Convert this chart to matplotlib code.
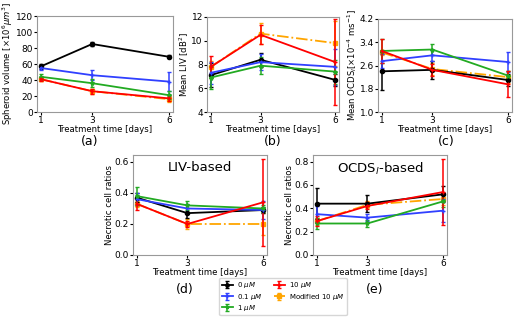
import numpy as np
import matplotlib
matplotlib.use("Agg")
from matplotlib import pyplot as plt

days = [1, 3, 6]
groups = ['0 $\\mu M$', '0.1 $\\mu M$', '1 $\\mu M$', '10 $\\mu M$', 'Modified 10 $\\mu M$']
colors = ['black', '#3040ff', '#22aa22', 'red', 'orange']
markers = ['o', '+', '*', '+', 's']
styles = ['-', '-', '-', '-', '-.']

# (a) spheroid volume
vol = [[57, 85, 69], [55, 46, 38], [44, 36, 21], [41, 26, 17], [41, 26, 16]]
vol_err = [[3, 2, 2], [2, 6, 12], [4, 5, 5], [2, 3, 3], [2, 3, 3]]
# (b) mean LIV
liv = [[7.1, 8.4, 6.7], [7.3, 8.2, 7.8], [6.9, 7.9, 7.4], [7.8, 10.5, 8.2], [7.8, 10.6, 9.8]]
liv_err = [[1.0, 0.6, 0.5], [0.9, 0.7, 1.5], [1.0, 0.7, 1.0], [0.9, 0.8, 3.6], [0.5, 0.9, 1.9]]
# (c) mean OCDS
ocds = [[2.4, 2.45, 2.1], [2.75, 2.95, 2.72], [3.1, 3.15, 2.25], [3.1, 2.45, 1.95], [3.05, 2.48, 2.2]]
ocds_err = [[0.65, 0.3, 0.2], [0.25, 0.2, 0.35], [0.4, 0.2, 0.15], [0.4, 0.2, 0.45], [0.1, 0.2, 0.2]]
# (d) LIV-based necrotic ratio
nliv = [[0.37, 0.27, 0.29], [0.36, 0.30, 0.29], [0.38, 0.32, 0.30], [0.33, 0.20, 0.34], [0.33, 0.20, 0.20]]
nliv_err = [[0.03, 0.03, 0.02], [0.04, 0.03, 0.06], [0.06, 0.03, 0.02], [0.04, 0.02, 0.28], [0.02, 0.03, 0.07]]
# (e) OCDS-based necrotic ratio
nocds = [[0.44, 0.44, 0.52], [0.35, 0.32, 0.38], [0.27, 0.27, 0.46], [0.29, 0.42, 0.54], [0.29, 0.43, 0.48]]
nocds_err = [[0.13, 0.07, 0.07], [0.07, 0.03, 0.10], [0.05, 0.03, 0.05], [0.04, 0.03, 0.28], [0.03, 0.03, 0.05]]

plt.rcParams['font.family'] = 'DejaVu Sans'
plt.rcParams['font.size'] = 6.1

fig = plt.figure(figsize=(5.25, 3.17), dpi=100)
W, H = 525.0, 317.0

def make_ax(l, t, r, b):
    return fig.add_axes([l / W, 1 - b / H, (r - l) / W, (b - t) / H])

axes = [make_ax(37, 16, 173, 112), make_ax(207, 17, 339, 112), make_ax(378, 19, 512, 112),
        make_ax(133, 155, 267, 255), make_ax(313, 155, 447, 255)]
data = [(vol, vol_err), (liv, liv_err), (ocds, ocds_err), (nliv, nliv_err), (nocds, nocds_err)]
ylabels = ['Spheroid volume [$\\times10^6\\mu m^3$]', 'Mean LIV [dB$^2$]',
           'Mean OCDS$_l$[$\\times10^{-4}$ ms$^{-1}$]', 'Necrotic cell ratios', 'Necrotic cell ratios']
ylims = [(0, 120), (4, 12), (1.0, 4.2), (0, 0.645), (0, 0.857)]
yticks = [np.arange(0, 121, 20), [4, 6, 8, 10, 12], [1.0, 1.8, 2.6, 3.4, 4.2],
          [0.0, 0.2, 0.4, 0.6], [0.0, 0.2, 0.4, 0.6, 0.8]]
letters = ['(a)', '(b)', '(c)', '(d)', '(e)']
letter_pos = [(90, 141), (273, 141), (446, 141), (185, 289), (375, 289)]

handles = []
for k, ax in enumerate(axes):
    vals, errs = data[k]
    order = [4, 0, 1, 2, 3]
    for i in order:
        h = ax.errorbar(days, vals[i], yerr=errs[i], color=colors[i], marker=markers[i],
                        markersize=3, linestyle=styles[i], linewidth=1.3, elinewidth=1.1,
                        capsize=1.5, label=groups[i], zorder=2 + (i < 4))
        if k == 0:
            handles.append((i, h))
    ax.set_ylim(*ylims[k])
    ax.set_yticks(yticks[k])
    if k == 2:
        ax.set_yticklabels(['1.0', '1.8', '2.6', '3.4', '4.2'])
    ax.set_xticks(days)
    ax.set_xlim(0.85, 6.15)
    ax.set_xlabel('Treatment time [days]', labelpad=0)
    ax.set_ylabel(ylabels[k], labelpad=0.5)
    ax.tick_params(length=2, pad=1, labelsize=6.5)
    for s in ax.spines.values():
        s.set_color('#999999')
    lx, ly = letter_pos[k]
    fig.text(lx / W, 1 - ly / H, letters[k], ha='center', va='center', fontsize=9)

axes[3].text(0.5, 0.94, 'LIV-based', transform=axes[3].transAxes, ha='center', va='top', fontsize=9.5)
axes[4].text(0.5, 0.94, 'OCDS$_l$-based', transform=axes[4].transAxes, ha='center', va='top', fontsize=9.5)

handles.sort(key=lambda x: x[0])
hs = [h for _, h in handles]
fig.legend(hs, groups, loc='center', bbox_to_anchor=(283 / W, 1 - 296.5 / H), ncol=2,
           fontsize=5, frameon=True, handlelength=1.6, columnspacing=1.6, handletextpad=0.6,
           labelspacing=0.2, borderpad=0.35, markerscale=0.8)

fig.savefig('out.png', dpi=100)
